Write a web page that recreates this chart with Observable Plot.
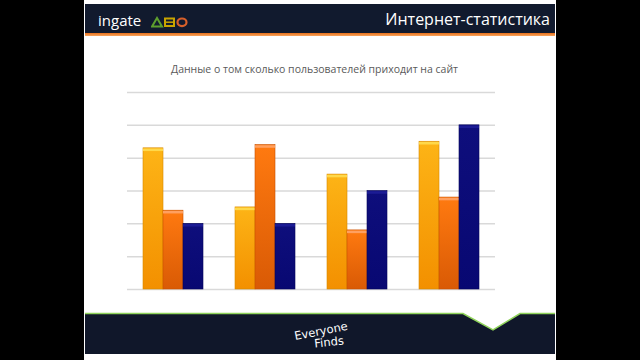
<!DOCTYPE html>
<html>
<head>
<meta charset="utf-8">
<script src="https://cdn.jsdelivr.net/npm/d3@7"></script>
<script src="https://cdn.jsdelivr.net/npm/@observablehq/plot@0.6"></script>
<style>
  html, body { margin: 0; padding: 0; }
  body { width: 640px; height: 360px; background: #000; position: relative; overflow: hidden; font-family: "Open Sans", "Noto Sans", sans-serif; }
  .abs { position: absolute; }
  #slide { left: 84px; top: 0; width: 472px; height: 360px; background: #fff; }
  #header { left: 85px; top: 4px; width: 470px; height: 29px; background: #111a2e; }
  #orange { left: 85px; top: 33px; width: 470px; height: 3px; background: linear-gradient(#e8701a, #f6a45e); }
  #brand { left: 98px; top: 11px; color: #fff; font-size: 15px; line-height: 18px; }
  #logo { left: 151px; top: 16px; }
  #headTitle { left: 300px; width: 250px; top: 8px; color: #fff; font-size: 16px; line-height: 22px; text-align: right; white-space: nowrap; }
  #chartTitle { left: 84px; width: 461px; top: 62px; text-align: center; color: #5a5a5a; font-size: 10.5px; line-height: 14px; white-space: nowrap; }
  #chart { left: 84px; top: 80px; }
  #footer { left: 85px; top: 314px; width: 470px; height: 40px; background: #10172a; }
  #footsvg { left: 84px; top: 310px; }
  #slogan1 { left: 291px; top: 325px; width: 60px; color: #fff; font-family: "DejaVu Sans", sans-serif; font-size: 11.5px; line-height: 12px; text-align: center; transform: rotate(-11deg); }
  #slogan2 { left: 299px; top: 336px; width: 60px; color: #fff; font-family: "DejaVu Sans", sans-serif; font-size: 11.5px; line-height: 12px; text-align: center; transform: rotate(-6deg); }
</style>
</head>
<body>
<div id="slide" class="abs"></div>
<div id="header" class="abs"></div>
<div id="orange" class="abs"></div>
<div id="brand" class="abs">ingate</div>
<svg id="logo" class="abs" width="40" height="12" viewBox="0 0 40 12">
  <polygon points="1,10.5 6,2 11,10.5" fill="none" stroke="#5d9e2e" stroke-width="2"/>
  <rect x="14" y="2.5" width="9" height="7.5" fill="none" stroke="#c9a400" stroke-width="2"/>
  <line x1="14" y1="6.2" x2="23" y2="6.2" stroke="#c9a400" stroke-width="1.5"/>
  <ellipse cx="31" cy="6.3" rx="4.5" ry="3.8" fill="none" stroke="#d8602a" stroke-width="2.2"/>
</svg>
<div id="headTitle" class="abs">Интернет-статистика</div>
<div id="chartTitle" class="abs">Данные о том сколько пользователей приходит на сайт</div>
<div id="chart" class="abs"></div>
<div id="footer" class="abs"></div>
<svg id="footsvg" class="abs" width="472" height="30">
  <polygon points="379,3.5 409,20 436,3.5" fill="#fff"/>
  <polyline points="1,3.5 379,3.5 409,20 436,3.5 471,3.5" fill="none" stroke="#8fd35a" stroke-width="1.5"/>
</svg>
<div id="slogan1" class="abs">Everyone</div>
<div id="slogan2" class="abs">Finds</div>

<script>
// ---- data ----
const groups = ["1", "2", "3", "4"];
const seriesNames = ["A", "B", "C"];
const valuesA = [4.3, 2.5, 3.5, 4.5];
const valuesB = [2.4, 4.4, 1.8, 2.8];
const valuesC = [2.0, 2.0, 3.0, 5.0];
const gridTicks = [0, 1, 2, 3, 4, 5, 6];

const seriesValues = { A: valuesA, B: valuesB, C: valuesC };
const seriesStroke = { A: "#d88a00", B: "#c85000", C: "#06065a" };
const seriesHighlight = { A: "#ffd84a", B: "#ffa060", C: "#1c1c95" };

const data = groups.flatMap((g, i) =>
  seriesNames.map(s => ({ group: g, series: s, value: seriesValues[s][i] }))
);

const marks = [
  Plot.ruleY(gridTicks, { stroke: "#d9d9d9", strokeWidth: 1.5 })
];
for (const s of seriesNames) {
  const sub = data.filter(d => d.series === s);
  marks.push(Plot.barY(sub, { fx: "group", x: "series", y: "value", fill: "series", stroke: seriesStroke[s], strokeWidth: 0.6 }));
  marks.push(Plot.tickY(sub, { fx: "group", x: "series", y: "value", stroke: seriesHighlight[s], strokeWidth: 2.5, dy: 1.5 }));
}

const svg = Plot.plot({
  width: 472,
  height: 215,
  marginLeft: 43,
  marginRight: 61,
  marginTop: 12,
  marginBottom: 6,
  fx: { domain: groups, padding: 0, axis: null, label: null },
  x: { domain: seriesNames, paddingInner: 0, paddingOuter: 0.725, axis: null, label: null },
  y: { domain: [0, 6], axis: null },
  color: { type: "ordinal", domain: seriesNames, range: ["url(#gA)", "url(#gB)", "url(#gC)"] },
  marks
});

const defs = d3.select(svg).insert("defs", ":first-child");
const grads = {
  gA: ["#fdb416", "#f39000"],
  gB: ["#ff7a10", "#d95a05"],
  gC: ["#0e0e7c", "#080872"]
};
for (const [id, [c0, c1]] of Object.entries(grads)) {
  const lg = defs.append("linearGradient").attr("id", id)
    .attr("x1", 0).attr("y1", 0).attr("x2", 0).attr("y2", 1);
  lg.append("stop").attr("offset", 0).attr("stop-color", c0);
  lg.append("stop").attr("offset", 1).attr("stop-color", c1);
}
document.getElementById("chart").appendChild(svg);
</script>
</body>
</html>
